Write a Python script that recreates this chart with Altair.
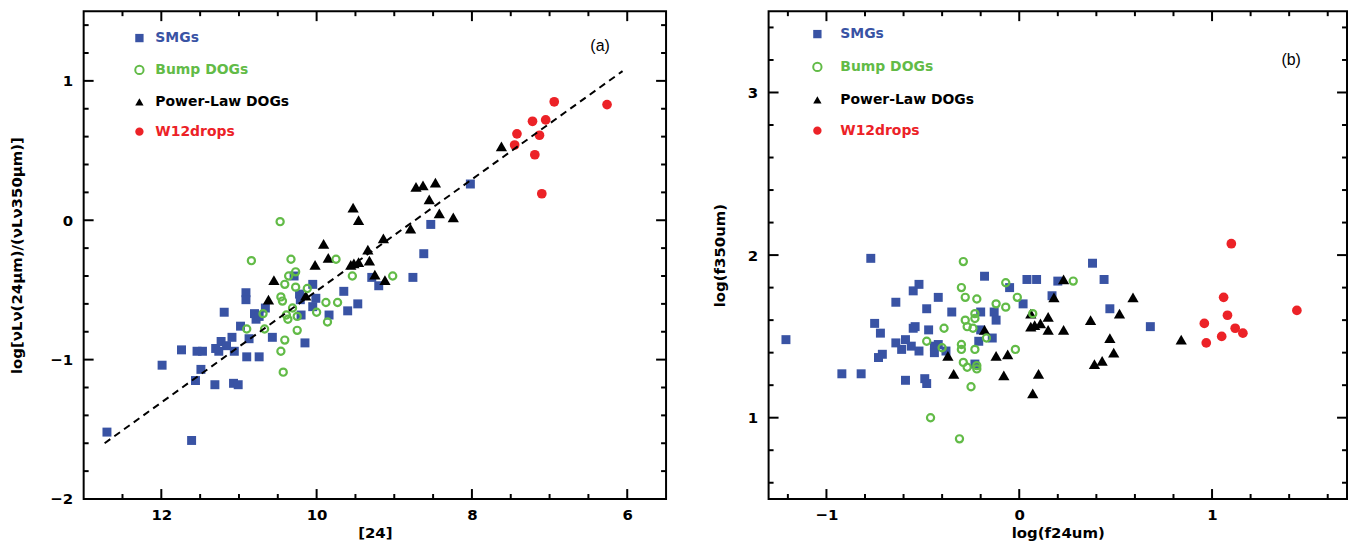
import altair as alt
import pandas as pd

GROUPS = ["SMGs", "Bump DOGs", "Power-Law DOGs", "W12drops"]

# ---------------- Panel (a): [24] vs log ratio ----------------
a_smg_x = [12.70, 11.61, 11.99, 11.74, 11.54, 11.47, 11.49, 11.56, 11.31, 11.07, 11.01, 11.30,
           11.26, 11.23, 11.16, 11.09, 11.06, 10.90, 10.74, 10.87, 10.98, 11.19, 10.91, 10.91,
           10.80, 10.78, 10.74, 10.66, 10.57, 10.29, 10.05, 10.22, 10.21, 10.01, 10.05, 10.20,
           10.15, 9.84, 9.65, 9.60, 9.47, 9.29, 9.20, 8.76, 8.62, 8.53, 8.02]
a_smg_y = [-1.52, -1.58, -1.04, -0.93, -0.94, -0.94, -1.07, -1.15, -1.18, -1.17, -1.18, -0.92,
           -0.94, -0.87, -0.90, -0.84, -0.94, -0.98, -0.98, -0.85, -0.76, -0.66, -0.52, -0.57,
           -0.67, -0.71, -0.69, -0.63, -0.84, -0.40, -0.46, -0.53, -0.57, -0.56, -0.62, -0.68,
           -0.88, -0.68, -0.51, -0.65, -0.60, -0.41, -0.47, -0.41, -0.24, -0.03, 0.26]

a_bump_x = [10.47, 10.84, 10.33, 9.75, 10.27, 10.36, 10.41, 10.27, 10.12, 10.46, 10.44, 10.31,
            10.39, 10.37, 10.25, 10.00, 9.88, 9.73, 9.86, 10.25, 10.67, 10.90, 10.69, 10.41,
            10.46, 10.43, 9.54, 9.02]
a_bump_y = [-0.01, -0.29, -0.28, -0.28, -0.37, -0.40, -0.46, -0.48, -0.49, -0.55, -0.58, -0.63,
            -0.68, -0.71, -0.69, -0.66, -0.59, -0.59, -0.73, -0.79, -0.78, -0.78, -0.67, -0.86,
            -0.94, -1.09, -0.40, -0.40]

a_pl_x = [10.62, 10.55, 10.02, 9.91, 9.85, 10.14, 9.53, 9.46, 9.56, 9.52, 9.46, 9.34, 9.32,
          9.25, 9.12, 9.14, 8.79, 8.72, 8.63, 8.47, 8.55, 8.42, 8.24, 7.62]
a_pl_y = [-0.57, -0.43, -0.32, -0.17, -0.27, -0.54, 0.09, 0.00, -0.32, -0.31, -0.30, -0.21,
          -0.29, -0.39, -0.43, -0.13, -0.06, 0.24, 0.25, 0.27, 0.15, 0.05, 0.02, 0.53]

a_w12_x = [6.94, 6.26, 7.22, 7.05, 7.42, 7.13, 7.45, 7.19, 7.10]
a_w12_y = [0.85, 0.83, 0.71, 0.72, 0.62, 0.61, 0.54, 0.47, 0.19]

a_fit_x = [12.73, 6.06]
a_fit_y = [-1.60, 1.07]

a_xticks = [12, 10, 8, 6]
a_xminor = [12.5, 11.5, 11, 10.5, 9.5, 9, 8.5, 7.5, 7, 6.5]
a_yticks = [-2, -1, 0, 1]
a_yminor = [-1.8, -1.6, -1.4, -1.2, -0.8, -0.6, -0.4, -0.2, 0.2, 0.4, 0.6, 0.8, 1.2, 1.4]

# ---------------- Panel (b): log(f24um) vs log(f350um) ----------------
b_smg_x = [-1.21, -0.77, -0.92, -0.82, -0.75, -0.72, -0.71, -0.73, -0.64, -0.64, -0.59, -0.61,
           -0.56, -0.52, -0.59, -0.55, -0.52, -0.55, -0.54, -0.48, -0.47, -0.49, -0.48, -0.44,
           -0.42, -0.44, -0.42, -0.38, -0.35, -0.23, -0.21, -0.20, -0.20, -0.18, -0.13, -0.12,
           -0.14, -0.05, 0.02, 0.04, 0.09, 0.20, 0.17, 0.38, 0.44, 0.47, 0.68]
b_smg_y = [1.48, 1.98, 1.27, 1.27, 1.58, 1.52, 1.39, 1.37, 1.71, 1.46, 1.48, 1.42, 1.44, 1.41,
           1.23, 1.78, 1.82, 1.55, 1.56, 1.67, 1.54, 1.24, 1.21, 1.44, 1.45, 1.40, 1.74, 1.41,
           1.65, 1.33, 1.47, 1.54, 1.65, 1.87, 1.65, 1.60, 1.49, 1.80, 1.70, 1.85, 1.85, 1.84,
           1.75, 1.95, 1.85, 1.67, 1.56]

b_bump_x = [-0.29, -0.30, -0.28, -0.22, -0.23, -0.28, -0.27, -0.24, -0.23, -0.39, -0.48, -0.40,
            -0.30, -0.30, -0.23, -0.29, -0.27, -0.22, -0.22, -0.25, -0.46, -0.31, -0.17, -0.12,
            -0.07, -0.07, -0.01, -0.02, 0.07, 0.28]
b_bump_y = [1.96, 1.80, 1.74, 1.73, 1.64, 1.60, 1.56, 1.55, 1.61, 1.55, 1.47, 1.43, 1.45, 1.42,
            1.42, 1.34, 1.31, 1.30, 1.32, 1.19, 1.00, 0.87, 1.49, 1.70, 1.68, 1.83, 1.74, 1.42,
            1.64, 1.84]

b_pl_x = [-0.37, -0.34, -0.18, -0.12, -0.06, -0.08, 0.07, 0.06, 0.08, 0.10, 0.06, 0.23, 0.18,
          0.15, 0.11, 0.15, 0.23, 0.37, 0.52, 0.59, 0.47, 0.49, 0.39, 0.43, 0.84]
b_pl_y = [1.38, 1.27, 1.54, 1.38, 1.39, 1.26, 1.15, 1.56, 1.57, 1.27, 1.64, 1.85, 1.74, 1.62,
          1.58, 1.54, 1.54, 1.60, 1.64, 1.74, 1.49, 1.40, 1.33, 1.35, 1.48]

b_w12_x = [1.10, 1.06, 1.08, 0.96, 1.12, 1.16, 1.05, 0.97, 1.44]
b_w12_y = [2.07, 1.74, 1.63, 1.58, 1.55, 1.52, 1.50, 1.46, 1.66]

b_xticks = [-1, 0, 1]
b_xminor = [-1.2, -0.8, -0.6, -0.4, -0.2, 0.2, 0.4, 0.6, 0.8, 1.2, 1.4, 1.6]
b_yticks = [1, 2, 3]
b_yminor = [0.6, 0.8, 1.2, 1.4, 1.6, 1.8, 2.2, 2.4, 2.6, 2.8, 3.2, 3.4]

# ---------------- styling ----------------
FILL = ["#3953a4", "transparent", "#000000", "#ec2227"]
STROKE = ["#3953a4", "#62bb47", "#000000", "#ec2227"]
SHAPES = ["square", "circle", "triangle-up", "circle"]
SIZES = [81, 52, 128, 95]
SWIDTH = [0, 2.2, 0, 0]
FONT = "DejaVu Sans"
TFONT = "Liberation Sans"

LABEL_COLOR = ("datum.label === 'SMGs' ? '#3953a4' : datum.label === 'Bump DOGs' ? '#62bb47' : "
               "datum.label === 'W12drops' ? '#ec2227' : '#000000'")
SYM_SW = "datum.label === 'Bump DOGs' ? 2 : 0"


def panel(series, W, H, xdom, xrev, ydom, xmaj, xmin, ymaj, ymin, xtitle, ytitle,
          tag, fit, leg, yl_pad, yt_pad):
    xs = alt.Scale(domain=xdom, reverse=xrev, nice=False, zero=False)
    ys = alt.Scale(domain=ydom, nice=False, zero=False)
    legend = alt.Legend(orient="none", legendX=leg[0], legendY=leg[1], title=None,
                        labelFont=FONT, labelFontSize=14, labelFontWeight="bold",
                        labelColor=alt.ExprRef(expr=LABEL_COLOR),
                        symbolStrokeWidth=alt.ExprRef(expr=SYM_SW),
                        symbolSize=70, labelOffset=leg[2], rowPadding=leg[3], padding=0)
    fill = alt.Fill("group:N", scale=alt.Scale(domain=GROUPS, range=FILL), legend=legend)
    stroke = alt.Stroke("group:N", scale=alt.Scale(domain=GROUPS, range=STROKE), legend=legend)
    shape = alt.Shape("group:N", scale=alt.Scale(domain=GROUPS, range=SHAPES), legend=legend)

    layers = []
    for k, i in enumerate([0, 2, 1, 3]):
        gx, gy = series[i]
        df = pd.DataFrame({"x": gx, "y": gy, "group": GROUPS[i]})
        if k == 0:
            xa = alt.Axis(orient="bottom", values=xmaj, ticks=False, domain=False, grid=False,
                          title=xtitle, labelPadding=9, titlePadding=3, format="d")
            ya = alt.Axis(orient="left", values=ymaj, ticks=False, domain=False, grid=False,
                          title=ytitle, labelPadding=yl_pad, titlePadding=yt_pad, format="d")
        else:
            xa = None
            ya = None
        layers.append(
            alt.Chart(df).mark_point(filled=True, size=SIZES[i], strokeWidth=SWIDTH[i], opacity=1)
            .encode(x=alt.X("x:Q", scale=xs, axis=xa), y=alt.Y("y:Q", scale=ys, axis=ya),
                    fill=fill, stroke=stroke, shape=shape)
        )

    if fit is not None:
        fdf = pd.DataFrame({"x": fit[0], "y": fit[1]})
        layers.append(
            alt.Chart(fdf).mark_line(color="black", strokeDash=[7, 5], strokeWidth=2)
            .encode(x=alt.X("x:Q", scale=xs, axis=None), y=alt.Y("y:Q", scale=ys, axis=None))
        )

    tdf = pd.DataFrame({"x": [tag[0]], "y": [tag[1]], "t": [tag[2]]})
    layers.append(
        alt.Chart(tdf).mark_text(font=TFONT, fontSize=16, color="black")
        .encode(x=alt.X("x:Q", scale=xs, axis=None), y=alt.Y("y:Q", scale=ys, axis=None),
                text="t:N")
    )

    # inward ticks on all four sides
    for vals, yvals, ln in [(xmaj, ymaj, 10), (xmin, ymin, 5)]:
        xd = pd.DataFrame({"x": vals})
        yd = pd.DataFrame({"y": yvals})
        xr = alt.Chart(xd).mark_rule(color="black", strokeWidth=2)
        yr = alt.Chart(yd).mark_rule(color="black", strokeWidth=2)
        xe = alt.X("x:Q", scale=xs, axis=None)
        ye = alt.Y("y:Q", scale=ys, axis=None)
        layers.append(xr.encode(x=xe, y=alt.value(H), y2=alt.value(H - ln)))
        layers.append(xr.encode(x=xe, y=alt.value(0), y2=alt.value(ln)))
        layers.append(yr.encode(y=ye, x=alt.value(0), x2=alt.value(ln)))
        layers.append(yr.encode(y=ye, x=alt.value(W), x2=alt.value(W - ln)))

    return alt.layer(*layers).resolve_axis(x="independent", y="independent").properties(
        width=W, height=H)


left = panel(
    [(a_smg_x, a_smg_y), (a_bump_x, a_bump_y), (a_pl_x, a_pl_y), (a_w12_x, a_w12_y)],
    585, 490, [5.5, 13], True, [-2, 1.5], a_xticks, a_xminor, a_yticks, a_yminor,
    "[24]", "log[νLν(24μm)/(νLν350μm)]", (6.35, 1.25, "(a)"), (a_fit_x, a_fit_y),
    (49, 20, 9, 16), 11, 25)

right = panel(
    [(b_smg_x, b_smg_y), (b_bump_x, b_bump_y), (b_pl_x, b_pl_y), (b_w12_x, b_w12_y)],
    581, 490, [-1.3, 1.7], False, [0.5, 3.5], b_xticks, b_xminor, b_yticks, b_yminor,
    "log(f24um)", "log(f350um)", (1.41, 3.20, "(b)"), None,
    (42, 16, 16, 17), 11, 20)

chart = alt.hconcat(left, right, spacing=43).resolve_scale(
    fill="independent", stroke="independent", shape="independent"
).properties(
    padding={"left": 0, "top": 0, "right": 0, "bottom": 0}
).configure_view(
    stroke="black", strokeWidth=2
).configure_axis(
    labelFont=FONT, labelFontSize=15, labelFontWeight="bold", labelColor="black",
    titleFont=FONT, titleFontSize=15, titleFontWeight="bold", titleColor="black"
)

chart.save("out.html", embed_options={"renderer": "svg", "actions": False})
